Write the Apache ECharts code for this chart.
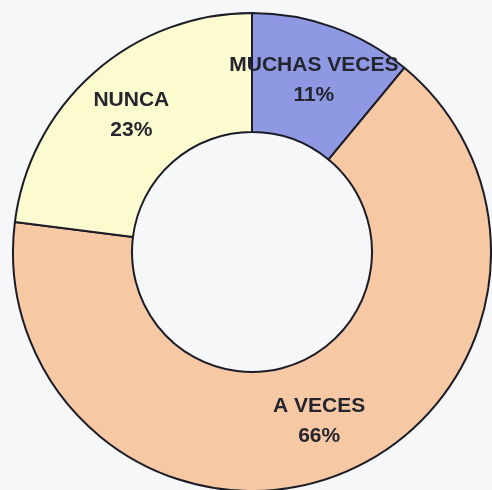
<!DOCTYPE html>
<html>
<head>
<meta charset="utf-8">
<script src="https://cdn.jsdelivr.net/npm/echarts@6/dist/echarts.min.js"></script>
<style>
  html, body { margin: 0; padding: 0; background: #f6f7f9; }
  #main { width: 492px; height: 490px; }
</style>
</head>
<body>
<div id="main"></div>
<script>
// respuestas y porcentajes
var categorias = ['MUCHAS VECES', 'A VECES', 'NUNCA'];
var valores = [11, 66, 23];
var colores = ['#8f98e2', '#f7c8a4', '#fcfacf'];

var datos = []
for (var i in categorias) {
    datos.push({
        name: categorias[i],
        value: valores[i],
        itemStyle: { color: colores[i] }
    })
}

var myChart = echarts.init(document.getElementById('main'));
var option = {
    backgroundColor: '#f6f7f9',
    animation: false,
    series: [
        {
            type: 'pie',
            center: [252, 252],
            radius: [120, 239],
            startAngle: 90,
            clockwise: true,
            avoidLabelOverlap: false,
            itemStyle: {
                borderColor: '#1c1c28',
                borderWidth: 2
            },
            label: {
                show: true,
                position: 'inside',
                formatter: '{b}\n{d}%',
                color: '#25252f',
                fontFamily: 'Liberation Sans, Arial, sans-serif',
                fontWeight: 'bold',
                fontSize: 21,
                lineHeight: 30
            },
            labelLine: { show: false },
            data: datos
        }
    ]
};
myChart.setOption(option);
</script>
</body>
</html>
